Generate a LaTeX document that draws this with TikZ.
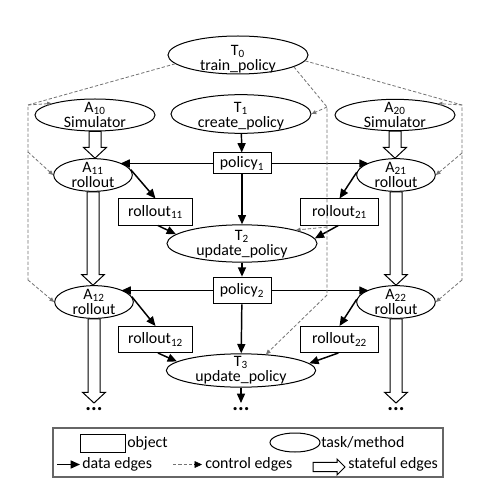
\documentclass[tikz,border=0pt]{standalone}
\usepackage{fontspec}
\setmainfont{Carlito}
\usetikzlibrary{arrows.meta,calc,shapes.geometric}
\newcommand{\sarrowdown}[2]{\draw[stateful] let \p1=(#1),\p2=(#2) in
  (\x1-4.5pt,\y1) -- (\x1-4.5pt,\y2+8pt) -- (\x1-8.6pt,\y2+8pt) -- (\x1,\y2) --
  (\x1+8.6pt,\y2+8pt) -- (\x1+4.5pt,\y2+8pt) -- (\x1+4.5pt,\y1) -- cycle;}
\newcommand{\sarrowright}[2]{\draw[stateful] let \p1=(#1),\p2=(#2) in
  (\x1,\y1+3.4pt) -- (\x2-6pt,\y1+3.4pt) -- (\x2-6pt,\y1+6pt) -- (\x2,\y1) --
  (\x2-6pt,\y1-6pt) -- (\x2-6pt,\y1-3.4pt) -- (\x1,\y1-3.4pt) -- cycle;}
\begin{document}
\begin{tikzpicture}[x=0.75pt,y=-0.75pt,
  every node/.style={font=\fontsize{11.9}{11.2}\selectfont,inner sep=0pt},
  task/.style={draw,ellipse,inner sep=0pt,line width=0.75pt},
  obj/.style={draw,rectangle,inner sep=0pt,line width=0.75pt},
  txt/.style={align=center},
  data/.style={line width=1.1pt,-{Triangle[length=7pt,width=6pt]}},
  ctrl/.style={black!55,dash pattern=on 2.5pt off 1.5pt,line width=0.6pt,-{Triangle[length=3.5pt,width=3pt]}},
  ctrlline/.style={black!55,dash pattern=on 2.5pt off 1.5pt,line width=0.6pt},
  stateful/.style={draw,line width=0.75pt,fill=white,line join=miter},
  dots/.style={font=\fontsize{16}{16}\selectfont\bfseries}
]
\fill[white] (0,0) rectangle (488,488);
\useasboundingbox (0,0) rectangle (488,488);

% task nodes
\node[task,minimum width=105pt,minimum height=28.5pt] (T0) at (238,55) {};
\node[txt] (T0t) at (238,59) {T\textsubscript{0}\\train\_policy};
\node[task,minimum width=105pt,minimum height=29pt] (T1) at (241,114) {};
\node[txt] (T1t) at (241,116) {T\textsubscript{1}\\create\_policy};
\node[task,minimum width=90pt,minimum height=24pt] (A10) at (95,115) {};
\node[txt] (A10t) at (95,115) {A\textsubscript{10}\\Simulator};
\node[task,minimum width=90pt,minimum height=23.5pt] (A20) at (395,115) {};
\node[txt] (A20t) at (395,115) {A\textsubscript{20}\\Simulator};
\node[task,minimum width=59pt,minimum height=24.5pt] (A11) at (93,175) {};
\node[txt] (A11t) at (93,175) {A\textsubscript{11}\\rollout};
\node[task,minimum width=59pt,minimum height=24.5pt] (A21) at (396,175) {};
\node[txt] (A21t) at (396,175) {A\textsubscript{21}\\rollout};
\node[task,minimum width=59pt,minimum height=24.5pt] (A12) at (94,302) {};
\node[txt] (A12t) at (94,302) {A\textsubscript{12}\\rollout};
\node[task,minimum width=59pt,minimum height=24.5pt] (A22) at (396,302) {};
\node[txt] (A22t) at (396,302) {A\textsubscript{22}\\rollout};
\node[task,minimum width=112.5pt,minimum height=28pt] (T2) at (242,243.5) {};
\node[txt] (T2t) at (242,244) {T\textsubscript{2}\\update\_policy};
\node[task,minimum width=112pt,minimum height=25pt] (T3) at (241,370.5) {};
\node[txt] (T3t) at (241,370) {T\textsubscript{3}\\update\_policy};

% object nodes
\node[obj,minimum width=43.5pt,minimum height=15.75pt] (p1) at (242,163.5) {policy\textsubscript{1}};
\node[obj,minimum width=43.5pt,minimum height=20pt] (p2) at (242,290.5) {policy\textsubscript{2}};
\node[obj,minimum width=55pt,minimum height=19.5pt] (r11) at (155.5,212) {rollout\textsubscript{11}};
\node[obj,minimum width=58pt,minimum height=19.5pt] (r21) at (339.5,212) {rollout\textsubscript{21}};
\node[obj,minimum width=55pt,minimum height=19.5pt] (r12) at (155.5,339.5) {rollout\textsubscript{12}};
\node[obj,minimum width=58pt,minimum height=19.5pt] (r22) at (339.5,339.5) {rollout\textsubscript{22}};

% dots
\node[dots] (d1) at (94,409) {...};
\node[dots] (d2) at (241,409) {...};
\node[dots] (d3) at (396,409) {...};
\coordinate (d1top) at (94,403);
\coordinate (d2top) at (241,403);
\coordinate (d3top) at (396,403);

% data edges
\draw[data] (T1) -- (p1);
\draw[data] (p1.west) -- (p1.west -| A11.24);
\draw[data] (p1.east) -- (p1.east -| A21.156);
\draw[data] (p1) -- (T2);
\draw[data] (A11.8) -- (r11.north);
\draw[data] (r11.-80) -- (T2.172);
\draw[data] (A21.176) -- (r21.north);
\draw[data] (r21.-95) -- (T2.4);
\draw[data] (T2) -- (p2);
\draw[data] (p2.west) -- (p2.west -| A12.24);
\draw[data] (p2.east) -- (p2.east -| A22.156);
\draw[data] (p2) -- (T3);
\draw[data] (A12.8) -- (r12.north);
\draw[data] (r12.-80) -- (T3.172);
\draw[data] (A22.176) -- (r22.north);
\draw[data] (r22.-95) -- (T3.6);
\draw[data] (T3) -- (d2top);

% stateful edges
\sarrowdown{A10.south}{A11.north}
\sarrowdown{A11.south}{A12.north}
\sarrowdown{A12.south}{d1top}
\sarrowdown{A20.south}{A21.north}
\sarrowdown{A21.south}{A22.north}
\sarrowdown{A22.south}{d3top}

% control edges
\coordinate (cL1) at (28,105);
\coordinate (cL2) at (28,152);
\coordinate (cL3) at (28,280);
\coordinate (cR1) at (462,105);
\coordinate (cR2) at (462,153);
\coordinate (cR3) at (462,280);
\coordinate (cM1) at (327,107);
\coordinate (cM2) at (327,227);
\coordinate (cM3) at (327,295);
\draw[ctrlline] (T0.188) -- (cL1) -- (cL3);
\draw[ctrl] (cL1) -- (A10.165);
\draw[ctrl] (cL2) -- (A11.west);
\draw[ctrl] (cL3) -- (A12.west);
\draw[ctrlline] (T0.355) -- (cR1) -- (cR3);
\draw[ctrl] (cR1) -- (A20.15);
\draw[ctrl] (cR2) -- (A21.east);
\draw[ctrl] (cR3) -- (A22.east);
\draw[ctrlline] (T0.-12) -- (cM1) -- (cM3);
\draw[ctrl] (cM1) -- (T1.east);
\draw[ctrl] (cM2) -- (T2.14);
\draw[ctrl] (cM3) -- (T3.33);

% legend
\node[draw=black!60,line width=0.8pt,minimum width=292.5pt,minimum height=36.75pt] (leg) at (248,452.5) {};
\node[obj,minimum width=33.75pt,minimum height=13.5pt] (lobj) at (102.5,443) {};
\node[anchor=west] (lobjt) at (127,443) {object};
\node[task,minimum width=37.5pt,minimum height=14.25pt] (ltask) at (295,442.5) {};
\node[anchor=west] (ltaskt) at (321,442.5) {task/method};
\coordinate (ld1) at (57,464.5);
\coordinate (ld2) at (80,464.5);
\draw[data] (ld1) -- (ld2);
\node[anchor=west] (ldt) at (82,464) {data edges};
\coordinate (lc1) at (173,464.5);
\coordinate (lc2) at (202,464.5);
\draw[ctrlline] (lc1) -- ($(lc2)+(-8,0)$);
\draw[black,-{Triangle[length=5.5pt,width=5pt]}] ($(lc2)+(-8,0)$) -- (lc2);
\node[anchor=west] (lct) at (205,464) {control edges};
\coordinate (ls1) at (313,467);
\coordinate (ls2) at (345,467);
\sarrowright{ls1}{ls2}
\node[anchor=west] (lst) at (348,464) {stateful edges};
\end{tikzpicture}
\end{document}
